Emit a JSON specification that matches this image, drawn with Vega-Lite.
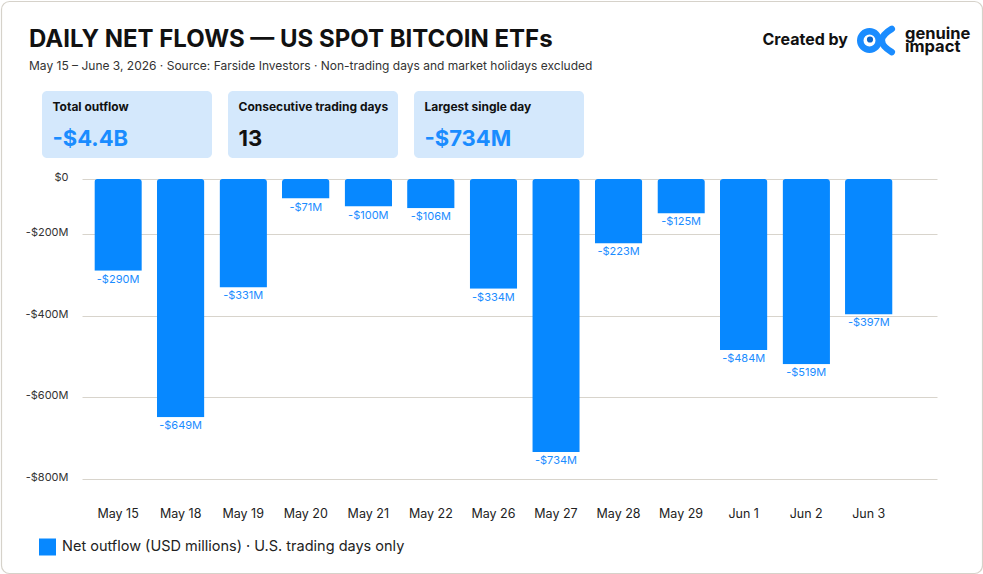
{
  "$schema": "https://vega.github.io/schema/vega-lite/v6.json",
  "background": "#ffffff",
  "padding": 0,
  "config": {"font": "Inter", "view": {"stroke": null}},
  "resolve": {"scale": {"color": "independent"}},
  "bounds": "flush",
  "spacing": 21,
  "vconcat": [
    {
      "width": 882,
      "height": 67,
      "data": {
        "values": [
          {"metric": "Total outflow", "value": "-$4.4B", "kind": "flow"},
          {"metric": "Consecutive trading days", "value": "13", "kind": "count"},
          {"metric": "Largest single day", "value": "-$734M", "kind": "flow"}
        ]
      },
      "layer": [
        {
          "mark": {"type": "rect", "cornerRadius": 5, "color": "#d4e8fc"},
          "encoding": {
            "x": {"field": "metric", "type": "nominal", "sort": null, "axis": null,
                  "scale": {"range": [-40, 502], "paddingInner": 0.086, "paddingOuter": 0}}
          }
        },
        {
          "mark": {"type": "text", "align": "left", "baseline": "middle", "dx": 10.5, "dy": -17.5,
                   "fontSize": 12, "fontWeight": 700, "color": "#111111"},
          "encoding": {
            "x": {"field": "metric", "type": "nominal", "sort": null, "axis": null, "bandPosition": 0},
            "text": {"field": "metric"}
          }
        },
        {
          "mark": {"type": "text", "align": "left", "baseline": "middle", "dx": 10.5, "dy": 14.5,
                   "fontSize": 22, "fontWeight": 700},
          "encoding": {
            "x": {"field": "metric", "type": "nominal", "sort": null, "axis": null, "bandPosition": 0},
            "text": {"field": "value"},
            "color": {"field": "kind", "type": "nominal",
                      "scale": {"domain": ["flow", "count"], "range": ["#1a8cff", "#111111"]},
                      "legend": null}
          }
        },
        {
          "data": {"values": [{"label": "DAILY NET FLOWS — US SPOT BITCOIN ETFs"}]},
          "mark": {"type": "text", "align": "left", "baseline": "alphabetic", "x": -53, "y": -44.3,
                   "fontSize": 24, "fontWeight": 700, "color": "#111111"},
          "encoding": {"text": {"field": "label"}}
        },
        {
          "data": {"values": [{"label": "May 15 – June 3, 2026  · Source: Farside Investors · Non-trading days and market holidays excluded"}]},
          "mark": {"type": "text", "align": "left", "baseline": "alphabetic", "x": -53, "y": -20.6,
                   "fontSize": 12, "color": "#333333"},
          "encoding": {"text": {"field": "label"}}
        },
        {
          "data": {"values": [{"label": "Created by"}]},
          "mark": {"type": "text", "align": "right", "baseline": "alphabetic", "x": 766, "y": -46,
                   "fontSize": 16, "fontWeight": 700, "color": "#111111"},
          "encoding": {"text": {"field": "label"}}
        },
        {
          "data": {"values": [{"label": "logo"}]},
          "mark": {"type": "point",
                   "shape": "M-0.7375,0A0.4625,0.4625,0,1,1,0.1875,0A0.4625,0.4625,0,1,1,-0.7375,0M0.84,-0.58Q-0.15,0,0.84,0.58",
                   "filled": false, "stroke": "#1a8cff", "strokeWidth": 6.5, "strokeCap": "round",
                   "size": 1600, "opacity": 1, "x": 793, "y": -50.5},
          "encoding": {}
        },
        {
          "data": {"values": [{"label": "eye"}]},
          "mark": {"type": "point", "shape": "circle", "filled": true, "color": "#0b64c8",
                   "size": 38, "opacity": 1, "x": 788, "y": -51.5},
          "encoding": {}
        },
        {
          "data": {"values": [{"label": "genuine impact"}]},
          "mark": {"type": "text", "align": "left", "baseline": "alphabetic", "x": 823, "y": -52.3,
                   "fontSize": 16.5, "fontWeight": 700, "lineHeight": 13, "color": "#111111",
                   "text": ["genuine", "impact"]},
          "encoding": {}
        },
        {
          "data": {"values": [{"label": "frame"}]},
          "mark": {"type": "rect", "x": -80.5, "x2": 900.5, "y": -89.5, "y2": 482.5,
                   "cornerRadius": 8, "fill": "transparent", "stroke": "#d6d2ca", "strokeWidth": 1.2},
          "encoding": {}
        }
      ]
    },
    {
      "width": 855,
      "height": 300,
      "data": {
        "values": [
          {"day": "May 15", "flow": -290},
          {"day": "May 18", "flow": -649},
          {"day": "May 19", "flow": -331},
          {"day": "May 20", "flow": -71},
          {"day": "May 21", "flow": -100},
          {"day": "May 22", "flow": -106},
          {"day": "May 26", "flow": -334},
          {"day": "May 27", "flow": -734},
          {"day": "May 28", "flow": -223},
          {"day": "May 29", "flow": -125},
          {"day": "Jun 1", "flow": -484},
          {"day": "Jun 2", "flow": -519},
          {"day": "Jun 3", "flow": -397}
        ]
      },
      "encoding": {
        "x": {
          "field": "day", "type": "nominal", "sort": null,
          "scale": {"paddingInner": 0.2407, "paddingOuter": 0.454, "align": 0.217},
          "axis": {"title": null, "labelAngle": 0, "domain": false, "ticks": false, "tickSize": 0,
                   "labelPadding": 28.5, "labelFontSize": 12.5, "labelColor": "#222222", "grid": false}
        },
        "y": {
          "field": "flow", "type": "quantitative",
          "scale": {"domain": [-800, -200, 0], "range": [300, 55, 0], "nice": false, "zero": false},
          "axis": {"title": null, "values": [0, -200, -400, -600, -800],
                   "labelExpr": "datum.value == 0 ? '$0' : '-$' + abs(datum.value) + 'M'",
                   "domain": false, "ticks": false, "tickSize": 0, "labelPadding": 14,
                   "labelFontSize": 11, "labelColor": "#333333", "gridColor": "#d8d4cc",
                   "gridWidth": 1, "labelOffset": -1.5}
        }
      },
      "layer": [
        {
          "mark": {"type": "bar", "cornerRadiusEnd": 3},
          "encoding": {
            "color": {
              "datum": "Net outflow (USD millions) · U.S. trading days only",
              "type": "nominal",
              "scale": {"range": ["#0788ff"]},
              "legend": {"orient": "none", "legendX": -43, "legendY": 359.5, "title": null,
                         "symbolType": "square", "symbolSize": 289, "symbolStrokeWidth": 0,
                         "symbolOpacity": 1, "labelFontSize": 14.5, "labelColor": "#222222",
                         "labelOffset": 6, "padding": 0, "labelLimit": 600}
            }
          }
        },
        {
          "mark": {"type": "text", "baseline": "top", "dy": 3, "fontSize": 11, "color": "#1a8cff",
                   "text": {"expr": "'-$' + abs(datum.flow) + 'M'"}},
          "encoding": {"y": {"field": "flow", "type": "quantitative"}}
        }
      ]
    }
  ]
}
